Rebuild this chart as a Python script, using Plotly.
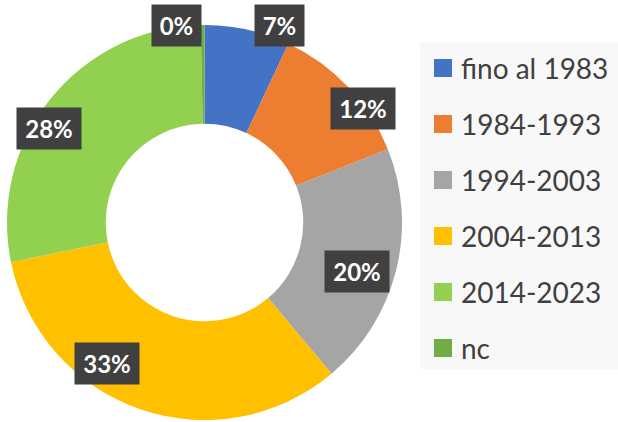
import plotly.graph_objects as go

# ---- data ----
categories = ["fino al 1983", "1984-1993", "1994-2003", "2004-2013", "2014-2023", "nc"]
values = [7, 12, 20, 33, 28, 0.3]
colors = ["#4472C4", "#ED7D31", "#A5A5A5", "#FFC000", "#92D050", "#70AD47"]

# ---- layout constants (pixels) ----
W, H = 618, 422
PIE_X = (7, 402)
PIE_Y = (25, 420)
# label box centres (px), in slice order
LABEL_PX = [(279, 26), (362.5, 108.5), (357, 271), (106.5, 363), (48.5, 128), (176.5, 26)]

def px(x, y):
    return x / W, 1 - y / H

total = sum(values)
labels_txt = [f"{round(v / total * 100)}%" for v in values]

fig = go.Figure()
fig.add_trace(go.Pie(
    labels=categories, values=values, sort=False, direction="clockwise",
    rotation=0, hole=0.5, textinfo="none", hoverinfo="label+percent",
    marker=dict(colors=colors, line=dict(color="white", width=0)),
    domain=dict(x=[PIE_X[0] / W, PIE_X[1] / W], y=[1 - PIE_Y[1] / H, 1 - PIE_Y[0] / H]),
    showlegend=False,
))

annotations = []
for t, (lx, ly) in zip(labels_txt, LABEL_PX):
    ax, ay = px(lx, ly)
    annotations.append(dict(
        x=ax, y=ay, xref="paper", yref="paper", text=f"<b>{t}</b>", showarrow=False,
        font=dict(family="Lato", size=24, color="white"),
        bgcolor="#404040", borderpad=0,
        width=49 if len(t) == 2 else 64, height=41,
        xanchor="center", yanchor="middle", align="center", valign="middle",
    ))

shapes = []
# legend background
lx0, ly0, lx1, ly1 = 420, 42, 640, 369
shapes.append(dict(type="rect", xref="paper", yref="paper",
                   x0=lx0 / W, x1=lx1 / W, y0=1 - ly1 / H, y1=1 - ly0 / H,
                   fillcolor="#F8F8F8", line=dict(width=0), layer="below"))
for i, (cat, col) in enumerate(zip(categories, colors)):
    cy = 68 + i * 56
    shapes.append(dict(type="rect", xref="paper", yref="paper",
                       x0=434 / W, x1=452 / W, y0=1 - (cy + 9) / H, y1=1 - (cy - 9) / H,
                       fillcolor=col, line=dict(width=0)))
    annotations.append(dict(
        x=459 / W, y=1 - cy / H, xref="paper", yref="paper", text=cat, showarrow=False,
        xanchor="left", yanchor="middle",
        font=dict(family="Lato", size=28, color="#404040"),
    ))

fig.update_layout(
    width=W, height=H, margin=dict(l=0, r=0, t=0, b=0),
    paper_bgcolor="white", plot_bgcolor="white",
    annotations=annotations, shapes=shapes,
)
fig.write_html("out.html", config={"displayModeBar": False},
               post_script="document.body.style.margin='0';document.body.style.overflow='hidden';")
